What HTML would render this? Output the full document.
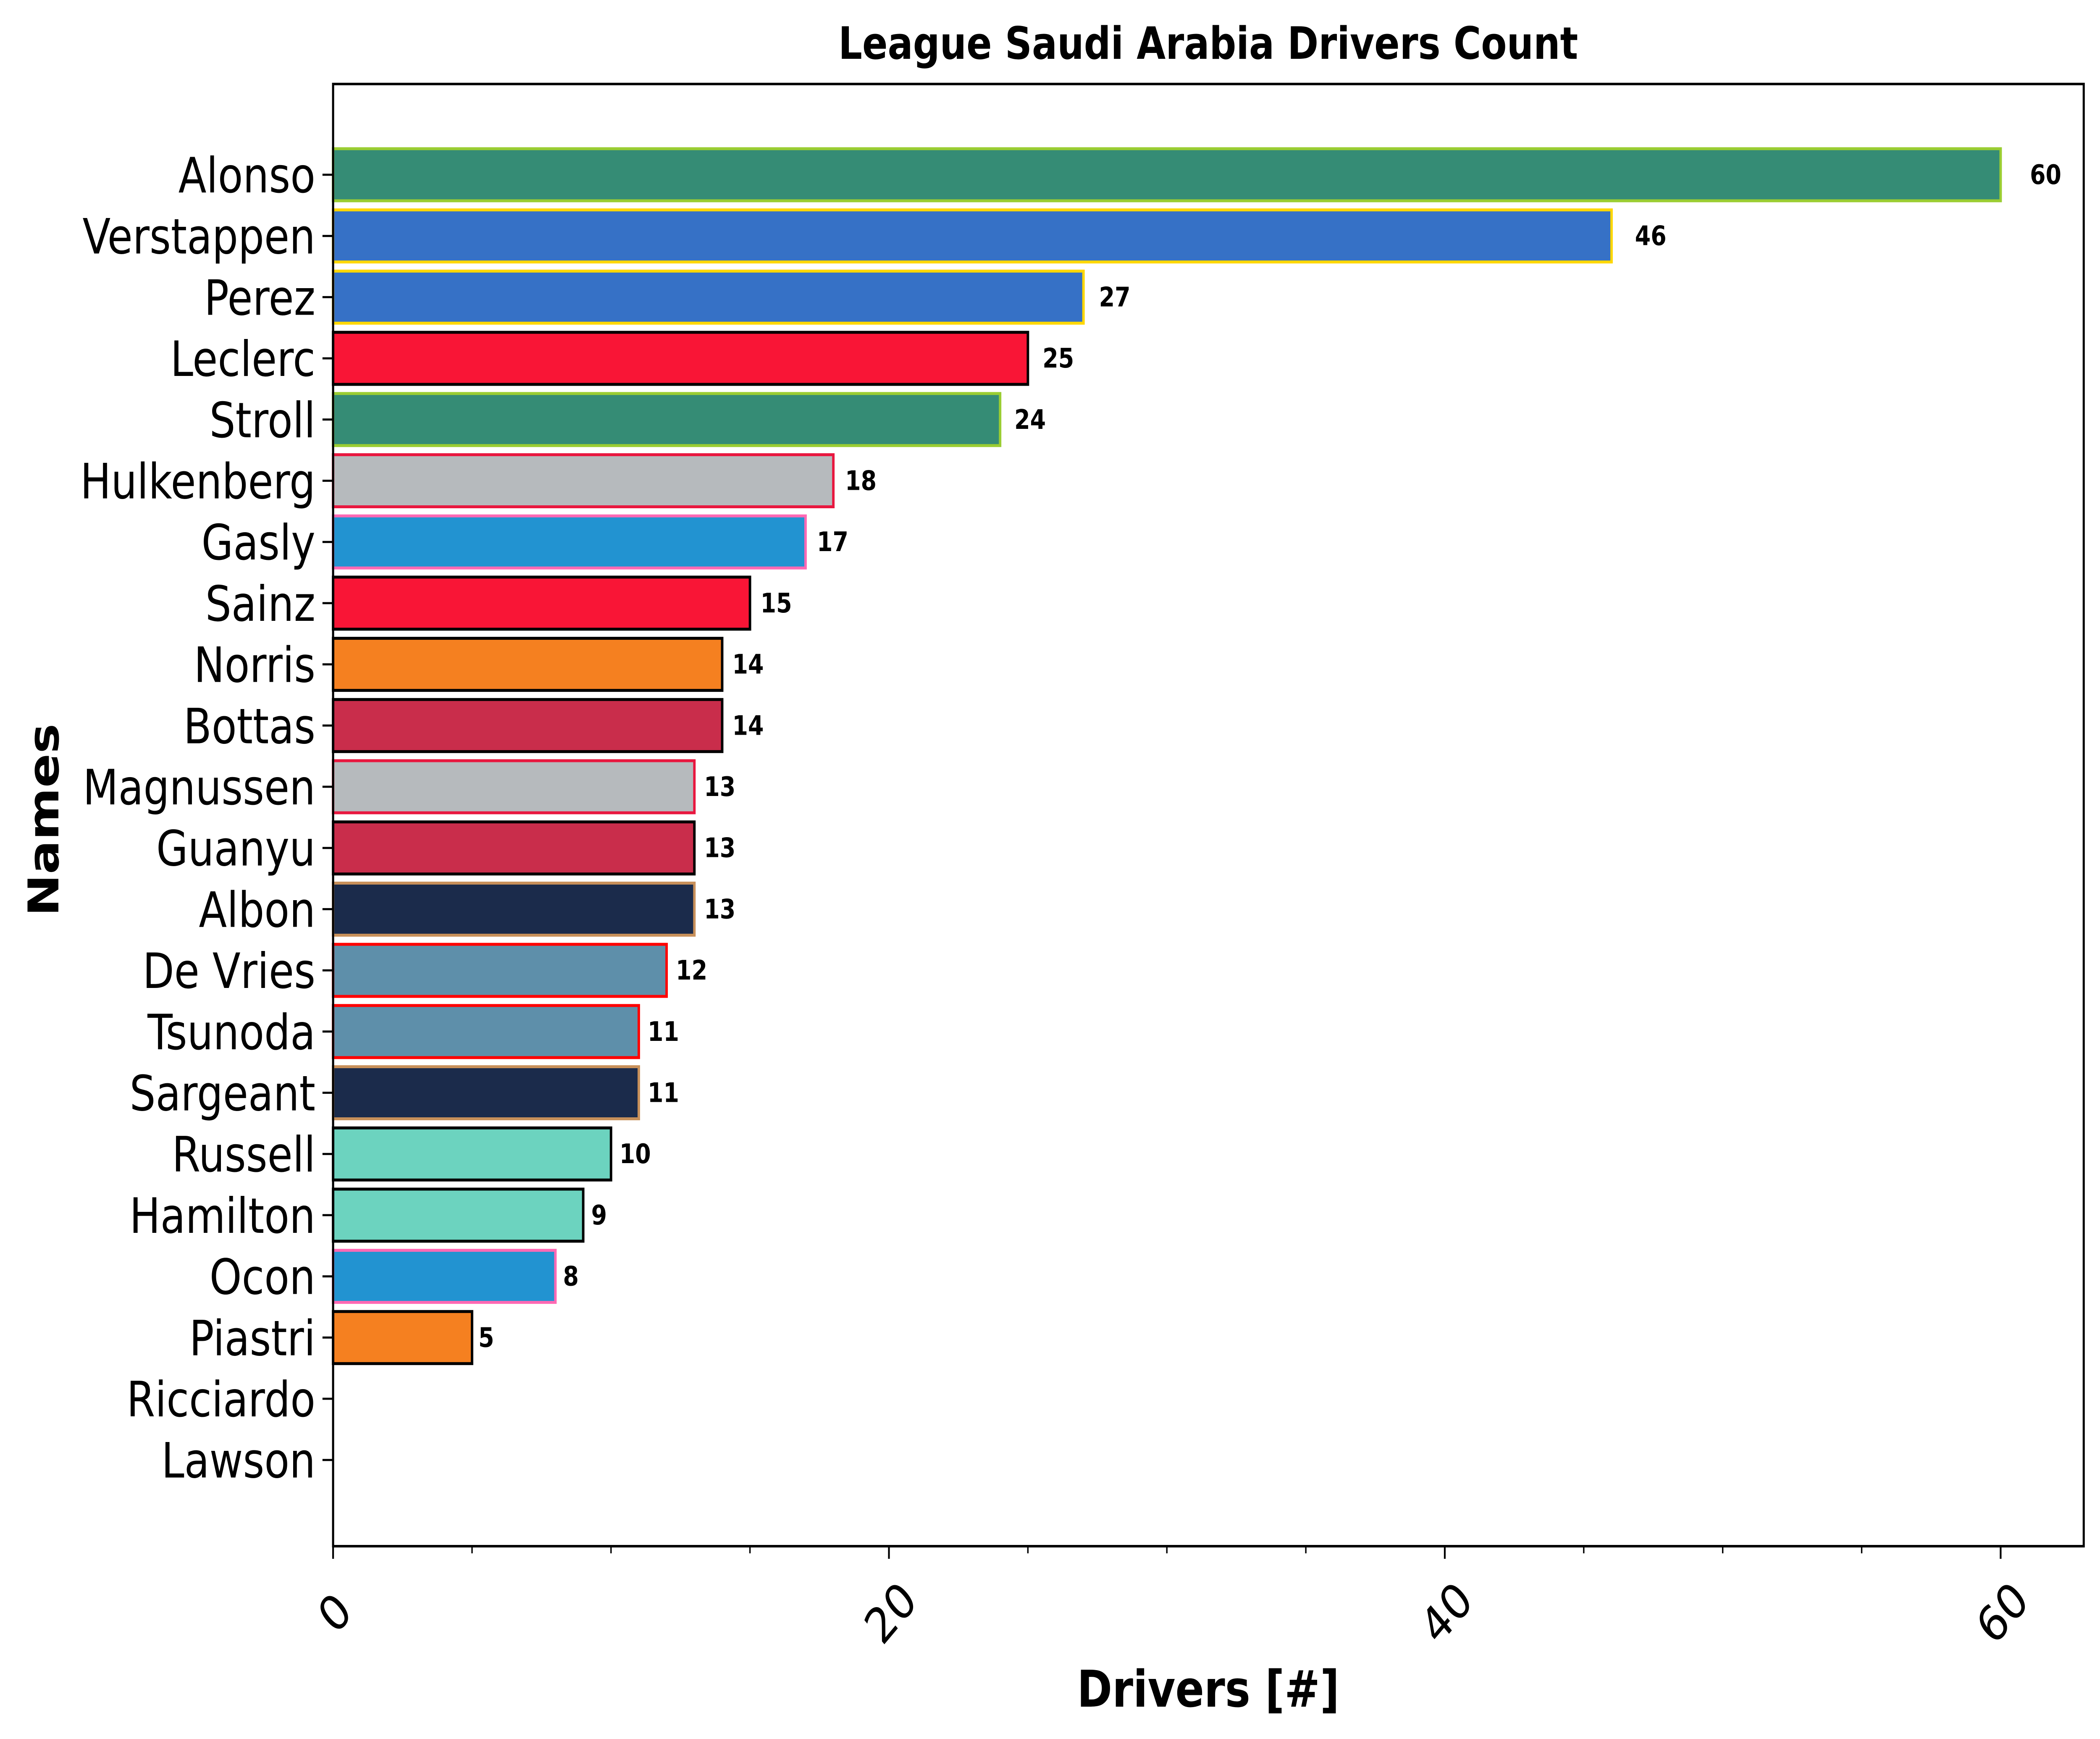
<!DOCTYPE html>
<html><head><meta charset="utf-8"><style>
html,body{margin:0;padding:0;background:#fff;overflow:hidden}
svg{display:block;position:fixed;left:0;top:0;width:100vw;height:100vh;font-family:"DejaVu Sans","Liberation Sans",sans-serif}
</style></head><body>
<svg id="chart" viewBox="0 0 5939 4140" preserveAspectRatio="none" xmlns="http://www.w3.org/2000/svg">
<rect width="5939" height="4140" fill="#fff"/>
<text x="3417" y="140" font-size="106" font-weight="bold" text-anchor="middle">League Saudi Arabia Drivers Count</text>
<text x="3417" y="4063" font-size="120" font-weight="bold" text-anchor="middle">Drivers [#]</text>
<text x="0" y="0" font-size="120" font-weight="bold" text-anchor="middle" transform="translate(165,1952) rotate(-90)">Names</text>
<g id="bars"></g>
<g id="yaxis"></g>
<g id="xaxis"></g>
<rect x="942" y="200" width="4951" height="3481" fill="none" stroke="#000" stroke-width="6"/>
</svg>
<script>
const names=["Alonso","Verstappen","Perez","Leclerc","Stroll","Hulkenberg","Gasly","Sainz","Norris","Bottas","Magnussen","Guanyu","Albon","De Vries","Tsunoda","Sargeant","Russell","Hamilton","Ocon","Piastri","Ricciardo","Lawson"];
const counts=[60,46,27,25,24,18,17,15,14,14,13,13,13,12,11,11,10,9,8,5,0,0];
const fills=["#358C75","#3671C6","#3671C6","#F91536","#358C75","#B6BABD","#2293D1","#F91536","#F58020","#C92D4B","#B6BABD","#C92D4B","#1B2B4B","#5E8FAA","#5E8FAA","#1B2B4B","#6CD3BF","#6CD3BF","#2293D1","#F58020","#5E8FAA","#5E8FAA"];
const edges=["#9ACD32","#FFD700","#FFD700","#000000","#9ACD32","#E8173F","#FF69B4","#000000","#000000","#000000","#E8173F","#000000","#C8905A","#FF0000","#FF0000","#C8905A","#000000","#000000","#FF69B4","#000000","#FF0000","#FF0000"];
const xTicks=[0,20,40,60];
const xMinor=[5,10,15,25,30,35,45,50,55];
const NS="http://www.w3.org/2000/svg";
const X0=942,PX=78.6;
function xs(v){return X0+v*PX;}
function ys(i){return 416+i*145.7;}
const BH=124;
function mk(tag,attrs,parent){const e=document.createElementNS(NS,tag);for(const k in attrs)e.setAttribute(k,attrs[k]);parent.appendChild(e);return e;}
const gb=document.getElementById('bars'),gy=document.getElementById('yaxis'),gx=document.getElementById('xaxis');
names.forEach((n,i)=>{
  const v=counts[i];
  if(v>0){
    const r=mk('rect',{x:xs(0),y:ys(i)-BH/2,width:xs(v)-xs(0),height:BH,fill:fills[i],stroke:edges[i],'stroke-width':7},gb);
    
    
    const t=mk('text',{x:xs(v*1.015)+12,y:ys(i)+22,'font-size':64,'font-weight':'bold'},gb);
    t.textContent=v;
    
    
  }
  const tk=mk('line',{x1:X0-30,x2:X0,y1:ys(i),y2:ys(i),stroke:'#000','stroke-width':5},gy);
  
  
  const lb=mk('text',{x:X0-50,y:ys(i)+42,'font-size':116,'text-anchor':'end'},gy);
  lb.textContent=n;
  
  
});
xTicks.forEach(v=>{
  const tk=mk('line',{x1:xs(v),x2:xs(v),y1:3681,y2:3711,stroke:'#000','stroke-width':5},gx);
  
  
  const lb=mk('text',{x:0,y:0,'font-size':116,'text-anchor':'middle',transform:'translate('+(xs(v)+5)+',3840) rotate(-45) translate(0,40)'},gx);
  lb.textContent=v;
  
  
});
xMinor.forEach(v=>{
  const tk=mk('line',{x1:xs(v),x2:xs(v),y1:3681,y2:3698,stroke:'#000','stroke-width':4},gx);
  
  
});
</script>
</body></html>
